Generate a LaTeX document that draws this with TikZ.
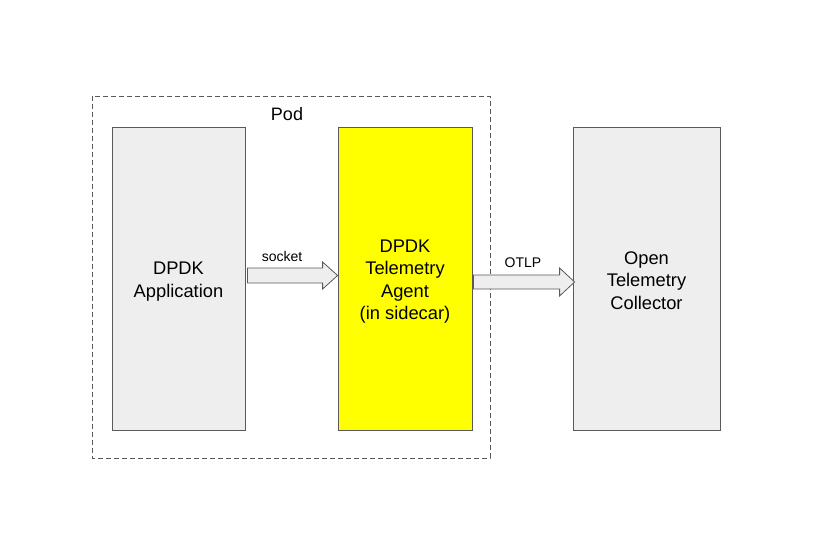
\documentclass[tikz,border=0pt]{standalone}
\usepackage{fontspec}
\setmainfont{Liberation Sans}
\usetikzlibrary{calc}

\definecolor{boxgray}{HTML}{EEEEEE}
\definecolor{linegray}{HTML}{595959}
\definecolor{agentyellow}{HTML}{FFFF00}

\tikzset{
  box/.style={draw=linegray, fill=boxgray, line width=0.8pt, inner sep=0pt},
  boxtext/.style={align=center, font=\fontsize{18.3}{22.3}\selectfont, inner sep=0pt, yshift=-3pt},
  blockarr/.style={draw=linegray, fill=boxgray, line width=0.8pt, line join=miter},
  lbl/.style={font=\fontsize{14}{16}\selectfont, inner sep=0pt}
}

\begin{document}
\begin{tikzpicture}[x=1pt,y=-1pt]
            \useasboundingbox (0,0) rectangle (839,551);
            % pod boundary
            \draw[linegray, dash pattern=on 5pt off 3pt, line width=0.7pt] (92,96) rectangle (490,458);
            \node[font=\fontsize{18}{22}\selectfont] at (287,114) (pod) {Pod};
            % boxes
            \node[box, minimum width=133pt, minimum height=303pt] at (178.5,278.5) (app) {};
            \node[box, fill=agentyellow, minimum width=134pt, minimum height=303pt] at (405,278.5) (agent) {};
            \node[box, minimum width=147pt, minimum height=303pt] at (646.5,278.5) (coll) {};
            \node[boxtext] at (app.center) (apptext) {DPDK\\Application};
            \node[boxtext] at (agent.center) (agenttext) {DPDK\\Telemetry\\Agent\\(in sidecar)};
            \node[boxtext, yshift=1pt] at (coll.center) (colltext) {Open\\Telemetry\\Collector};
            % block arrows
            \draw[blockarr] let \p1=(app.east), \p2=(agent.west) in
              (\x1+2pt,\y1+10.5pt) -- (\x2-15pt,\y1+10.5pt) -- (\x2-15pt,\y1+16.5pt)
              -- (\x2,\y1+3pt) -- (\x2-15pt,\y1-10.5pt) -- (\x2-15pt,\y1-4.5pt)
              -- (\x1+2pt,\y1-4.5pt) -- cycle;
            \draw[blockarr] let \p1=(agent.east), \p2=(coll.west) in
              (\x1+1pt,\y1+3.5pt) -- (\x2-13pt,\y1+3.5pt) -- (\x2-13pt,\y1+10.5pt)
              -- (\x2+2pt,\y1-3.5pt) -- (\x2-13pt,\y1-17.5pt) -- (\x2-13pt,\y1-10.5pt)
              -- (\x1+1pt,\y1-10.5pt) -- cycle;
            \node[lbl] at (282,256) (sock) {socket};
            \node[lbl] at (523,263) (otlp) {OTLP};
        \end{tikzpicture}
\end{document}
